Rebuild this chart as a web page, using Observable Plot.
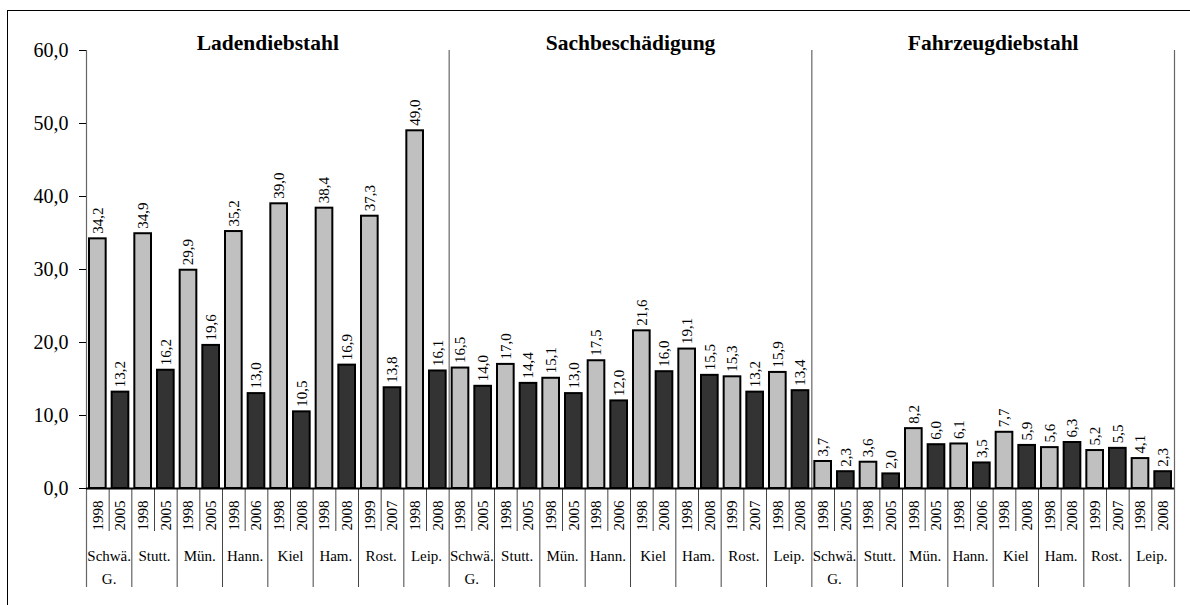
<!DOCTYPE html>
<html><head><meta charset="utf-8">
<script src="https://cdn.jsdelivr.net/npm/d3@7"></script>
<script src="https://cdn.jsdelivr.net/npm/@observablehq/plot@0.6"></script>
<style>
body{margin:0;background:#fff;}
#wrap{position:relative;width:1190px;height:605px;overflow:hidden;background:#fff;}
#border{position:absolute;left:7px;top:10px;right:-5px;bottom:-5px;border-top:1.5px solid #000;border-left:1.5px solid #000;pointer-events:none;}
</style></head><body><div id="wrap"><div id="border"></div></div>
<script>
// ---- data ----
const groups = ["Ladendiebstahl", "Sachbeschädigung", "Fahrzeugdiebstahl"];
const cities = ["Schwä.\nG.", "Stutt.", "Mün.", "Hann.", "Kiel", "Ham.", "Rost.", "Leip."];
const yearsFirst  = ["1998", "1998", "1998", "1998", "1998", "1998", "1999", "1998"];
const yearsSecond = ["2005", "2005", "2005", "2006", "2008", "2008", "2007", "2008"];
const ladenFirst   = [34.2, 34.9, 29.9, 35.2, 39.0, 38.4, 37.3, 49.0];
const ladenSecond  = [13.2, 16.2, 19.6, 13.0, 10.5, 16.9, 13.8, 16.1];
const sachFirst    = [16.5, 17.0, 15.1, 17.5, 21.6, 19.1, 15.3, 15.9];
const sachSecond   = [14.0, 14.4, 13.0, 12.0, 16.0, 15.5, 13.2, 13.4];
const fahrFirst    = [3.7, 3.6, 8.2, 6.1, 7.7, 5.6, 5.2, 4.1];
const fahrSecond   = [2.3, 2.0, 6.0, 3.5, 5.9, 6.3, 5.5, 2.3];
const yTicks = [0, 10, 20, 30, 40, 50, 60];

// ---- build table ----
const series = [[ladenFirst, ladenSecond], [sachFirst, sachSecond], [fahrFirst, fahrSecond]];
const years = [yearsFirst, yearsSecond];
const nC = cities.length, perGroup = nC * 2, nSlots = groups.length * perGroup;
const rows = [];
const cityRows = [];
series.forEach((pair, g) => {
  cities.forEach((city, c) => {
    cityRows.push({i: g * perGroup + c * 2, city});
    pair.forEach((vals, k) => {
      rows.push({i: g * perGroup + c * 2 + k, value: vals[c], year: years[k][c], kind: k});
    });
  });
});
const slotIdx = d3.range(nSlots + 1);
const groupBounds = slotIdx.filter(i => i % perGroup === 0);
const cityBounds = slotIdx.filter(i => i % 2 === 0 && i % perGroup !== 0);
const yearBounds = slotIdx.filter(i => i % 2 === 1);
const fmt = v => v.toFixed(1).replace(".", ",");

// layout (y-units below zero reach into the label area)
const pxPerUnit = (488 - 50) / 60;
const labelDepth = -99 / pxPerUnit;
const yearDepth = -43 / pxPerUnit;
const serif = "'Liberation Serif','Times New Roman',serif";

const chart = Plot.plot({
  width: 1190, height: 605,
  marginLeft: 86, marginRight: 16, marginTop: 50, marginBottom: 117,
  x: {type: "linear", domain: [0, nSlots], axis: null},
  y: {domain: [0, 60], label: null},
  color: {type: "ordinal", domain: [0, 1], range: ["#c0c0c0", "#333333"]},
  style: {fontFamily: serif, fontSize: "15px", color: "#000", background: "transparent"},
  marks: [
    Plot.ruleX(groupBounds, {x: d => d, y1: labelDepth, y2: 60, stroke: "#666", strokeWidth: 1.2}),
    Plot.ruleX(cityBounds, {x: d => d, y1: labelDepth, y2: 0, stroke: "#444", strokeWidth: 1}),
    Plot.ruleX(yearBounds, {x: d => d, y1: yearDepth, y2: 0, stroke: "#444", strokeWidth: 1}),
    Plot.rect(rows, {x1: d => d.i, x2: d => d.i + 1, y1: 0, y2: "value", fill: "kind",
      stroke: "#000", strokeWidth: 2, insetLeft: 3, insetRight: 3}),
    Plot.ruleY([0], {stroke: "#000", strokeWidth: 2}),
    Plot.axisY({ticks: yTicks, tickFormat: fmt, tickSize: 7, tickPadding: 11, fontSize: 20, fontFamily: serif, label: null}),
    Plot.text(rows, {x: d => d.i + 0.5, y: "value", text: d => fmt(d.value), rotate: -90,
      textAnchor: "start", dy: -5, fontSize: 15, fontFamily: serif, fill: "#000"}),
    Plot.text(rows, {x: d => d.i + 0.5, y: 0, text: "year", rotate: -90,
      textAnchor: "end", dy: 12, fontSize: 15, fontFamily: serif, fill: "#000"}),
    Plot.text(cityRows, {x: d => d.i + 1, y: 0, text: "city", lineAnchor: "top", lineHeight: 1.5,
      dy: 57, fontSize: 15, fontFamily: serif, fill: "#000"}),
    Plot.text(groups, {x: (d, g) => g * perGroup + perGroup / 2, y: 60, text: d => d,
      fontWeight: "bold", fontSize: 21.5, dy: -7, fontFamily: serif, fill: "#000"})
  ]
});
document.getElementById("wrap").prepend(chart);
</script>
</body></html>
